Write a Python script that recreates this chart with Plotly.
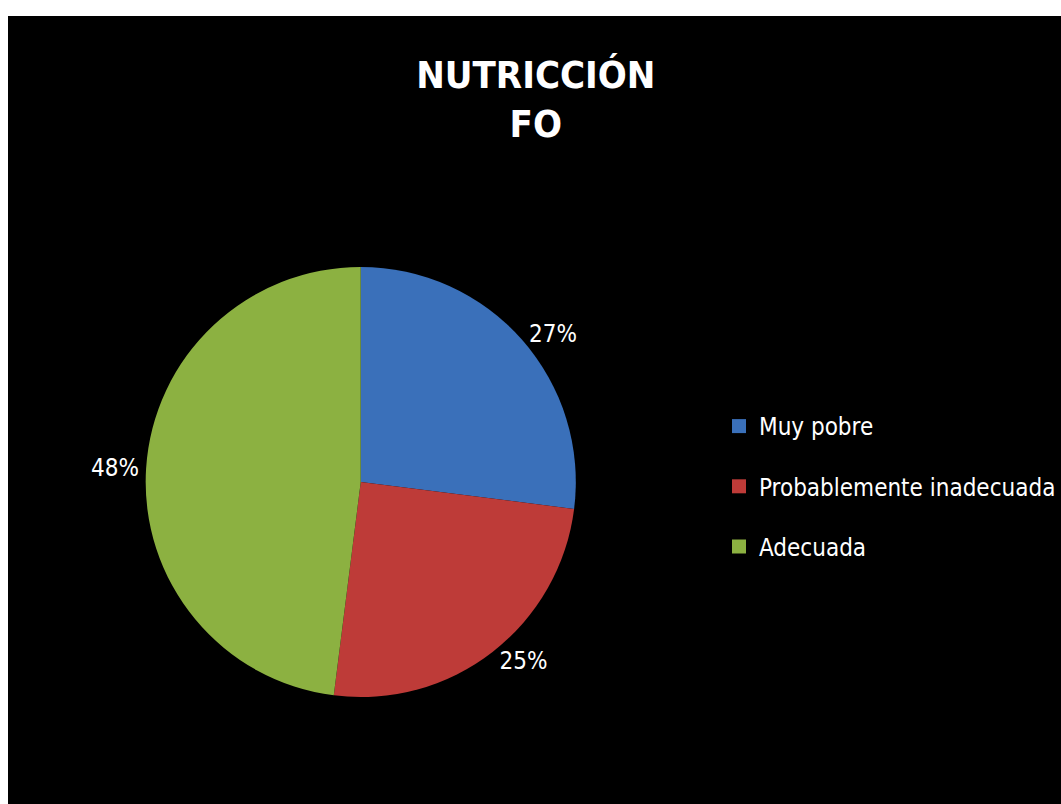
import plotly.graph_objects as go

categories = ["Muy pobre", "Probablemente inadecuada", "Adecuada"]
values = [27, 25, 48]
colors = ["#3A70BA", "#BE3B38", "#8CB141"]
title_lines = ["NUTRICCIÓN", "FO"]

W, H = 1061, 804
FONT = "DejaVu Sans Condensed"
fig = go.Figure()
fig.add_trace(go.Pie(
    labels=categories,
    values=values,
    sort=False,
    direction="clockwise",
    rotation=0,
    marker=dict(colors=colors, line=dict(width=0)),
    texttemplate="%{percent:.0%}",
    textposition="outside",
    textfont=dict(family=FONT, size=24, color="white"),
    domain=dict(x=[0.12, 0.56], y=[0.133, 0.668]),
    showlegend=False,
))

# legend entries (one per category) so the rows can be spaced like the original
for name, col in zip(categories, colors):
    fig.add_trace(go.Scatter(
        x=[None], y=[None], mode="markers", name=name, legendgroup=name,
        marker=dict(symbol="square", size=14, color=col),
    ))

fig.update_layout(
    width=W, height=H,
    margin=dict(l=0, r=0, t=0, b=0),
    paper_bgcolor="black",
    plot_bgcolor="black",
    xaxis=dict(visible=False),
    yaxis=dict(visible=False),
    title=dict(
        text="<br>".join(title_lines),
        x=0.505, xanchor="center",
        y=1 - 88 / H, yanchor="middle",
        font=dict(family=FONT, size=38, color="white", weight="bold"),
    ),
    legend=dict(
        x=719 / W, xanchor="left",
        y=1 - 404 / H, yanchor="top",
        font=dict(family=FONT, size=24, color="white"),
        bgcolor="rgba(0,0,0,0)",
        tracegroupgap=26,
    ),
    shapes=[
        dict(type="rect", xref="paper", yref="paper", x0=0, x1=8 / W, y0=0, y1=1,
             fillcolor="white", line=dict(width=0), layer="above"),
        dict(type="rect", xref="paper", yref="paper", x0=0, x1=1, y0=1 - 16 / H, y1=1,
             fillcolor="white", line=dict(width=0), layer="above"),
    ],
)

fig.write_html("out.html")
